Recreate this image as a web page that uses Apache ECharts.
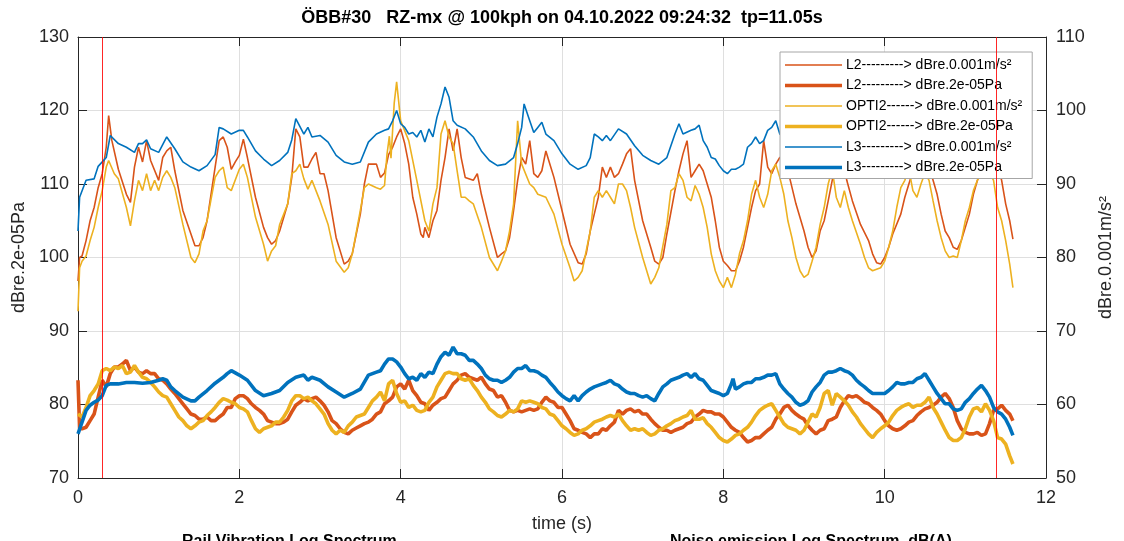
<!DOCTYPE html>
<html><head><meta charset="utf-8">
<script src="https://cdn.jsdelivr.net/npm/echarts@6/dist/echarts.min.js"></script>
<style>html,body{margin:0;padding:0;background:#fff}#c{width:1124px;height:541px}</style>
</head><body><div id="c"></div>
<script>
const titleText = 'ÖBB#30   RZ-mx @ 100kph on 04.10.2022 09:24:32  tp=11.05s';
const seriesNames = [
  'L2---------> dBre.0.001m/s²', 'L2---------> dBre.2e-05Pa',
  'OPTI2------> dBre.0.001m/s²', 'OPTI2------> dBre.2e-05Pa',
  'L3---------> dBre.0.001m/s²', 'L3---------> dBre.2e-05Pa'
];
const markerTimes = [0.3, 11.38];
const xTicks = [0, 2, 4, 6, 8, 10, 12];

// acceleration (right axis, dBre.0.001m/s²): [time s, value]
const L2acc = [[0,76.8],[0.02,80],[0.05,80.2],[0.1,82.3],[0.15,85],[0.2,86.8],[0.25,89.5],[0.3,91.4],[0.35,95],[0.38,99.3],[0.42,95.9],[0.5,92],[0.6,88.6],[0.65,87.5],[0.7,92.3],[0.75,95],[0.8,93],[0.85,95.9],[0.9,93.2],[1.0,90.5],[1.05,93.6],[1.1,94.5],[1.15,95],[1.2,91.8],[1.3,86.4],[1.4,83.2],[1.45,81.6],[1.5,81.6],[1.55,82.7],[1.6,85],[1.7,92.3],[1.75,95.9],[1.8,96.4],[1.85,95],[1.9,92],[1.95,93],[2.0,93.9],[2.05,96.1],[2.1,93.6],[2.2,88.2],[2.3,84.1],[2.35,82.7],[2.4,81.8],[2.45,82.3],[2.5,83.6],[2.6,87.3],[2.65,90.9],[2.7,97.5],[2.75,96.4],[2.8,92.3],[2.85,92.3],[2.9,93.4],[2.95,94.3],[3.0,91.4],[3.05,91.4],[3.1,89.1],[3.2,82.7],[3.3,79.1],[3.35,79.5],[3.4,80.5],[3.5,85.9],[3.55,90],[3.6,92.7],[3.7,92.7],[3.75,90.9],[3.8,91.5],[3.85,94],[3.9,95],[3.95,96.4],[4.0,97.5],[4.05,95.5],[4.1,92.7],[4.15,88.2],[4.2,85.9],[4.25,83.2],[4.28,82.7],[4.3,84.1],[4.35,82.7],[4.4,85],[4.45,86.4],[4.5,90.5],[4.55,93.6],[4.6,97.5],[4.65,94.5],[4.7,97.5],[4.75,93.6],[4.8,90.9],[4.9,90.5],[4.95,91.4],[5.0,88.6],[5.1,84.1],[5.2,80],[5.25,80.5],[5.3,80.9],[5.35,82.7],[5.4,86.4],[5.45,90.5],[5.5,93.6],[5.55,92.7],[5.6,95.9],[5.65,91.4],[5.7,90.9],[5.75,91.8],[5.8,94.5],[5.85,92.7],[5.9,90.9],[6.0,86.4],[6.1,81.8],[6.2,79.3],[6.25,79.1],[6.3,80.5],[6.35,83.6],[6.4,85.9],[6.45,88.2],[6.5,92.3],[6.55,90.9],[6.6,92.3],[6.65,90.9],[6.7,91.4],[6.75,92.7],[6.8,94.1],[6.85,94.8],[6.9,90.5],[7.0,85],[7.1,81.4],[7.15,79.5],[7.2,79.1],[7.25,80],[7.3,83.2],[7.4,89.1],[7.45,91.8],[7.5,94.1],[7.55,95.9],[7.6,90.9],[7.65,91.8],[7.7,92.7],[7.75,91.8],[7.8,90],[7.85,88.2],[7.9,85],[7.95,81.4],[8.0,79.5],[8.05,78.9],[8.1,78.2],[8.15,78.2],[8.2,79.5],[8.25,81.4],[8.3,84.1],[8.35,86.8],[8.4,89.1],[8.45,90],[8.5,95.9],[8.55,92.3],[8.6,91.4],[8.65,92.7],[8.7,93.6],[8.75,94],[8.83,90.5],[8.9,87.3],[9.0,83.6],[9.05,81.4],[9.1,80],[9.15,80.9],[9.2,83.6],[9.25,85],[9.3,87.7],[9.35,90.5],[9.4,93],[9.47,95],[9.53,90.5],[9.6,87.7],[9.7,84.5],[9.8,82.3],[9.85,80.5],[9.9,79.3],[9.95,79.1],[10.0,80],[10.05,81.4],[10.1,83.2],[10.2,85.9],[10.25,88.2],[10.3,90],[10.4,93.5],[10.5,94],[10.6,90.5],[10.65,88.6],[10.7,85.9],[10.75,83.6],[10.8,82.7],[10.85,81.4],[10.9,81.1],[10.95,82.3],[11.0,84.1],[11.05,85.9],[11.1,88.6],[11.15,90.5],[11.25,93.5],[11.35,94],[11.45,90.5],[11.5,87.3],[11.55,85],[11.59,82.5]];
const OPTI2acc = [[0,72.7],[0.02,78.6],[0.05,79.5],[0.1,80.2],[0.15,82.3],[0.2,84.1],[0.25,86.8],[0.3,89.1],[0.35,92.3],[0.38,93.2],[0.45,91.4],[0.5,90.7],[0.6,86.8],[0.65,84.3],[0.7,87.7],[0.75,90.5],[0.8,89.1],[0.85,91.4],[0.9,89.1],[0.95,90.5],[1.0,89.1],[1.05,90.9],[1.1,91.8],[1.15,90.9],[1.2,89.5],[1.3,84.5],[1.4,80],[1.45,79.3],[1.5,80.5],[1.55,83.6],[1.6,85],[1.7,90.9],[1.75,91.8],[1.8,92.3],[1.85,89.5],[1.9,89.1],[2.0,92],[2.05,92.7],[2.1,90.9],[2.2,85.5],[2.3,81.8],[2.35,79.5],[2.4,80.9],[2.45,81.6],[2.5,84.5],[2.6,87.3],[2.65,91.4],[2.7,91.8],[2.75,92.7],[2.8,90.7],[2.85,89.3],[2.9,90.5],[2.95,89.1],[3.0,87.7],[3.1,84.5],[3.2,79.5],[3.3,78],[3.35,78.6],[3.4,80.5],[3.5,86.4],[3.55,89.5],[3.6,90],[3.7,89.5],[3.75,89.3],[3.8,89.8],[3.83,94],[3.86,96.5],[3.88,93.5],[3.92,101],[3.95,103.9],[4.0,98.6],[4.1,95.9],[4.2,90.5],[4.3,85],[4.35,83.6],[4.4,87.3],[4.45,89.5],[4.5,96.8],[4.55,98.6],[4.6,96.4],[4.65,95.5],[4.7,91.8],[4.75,88.2],[4.8,88.2],[4.85,87.7],[4.9,87.3],[5.0,84.1],[5.1,80],[5.2,78.2],[5.25,79.5],[5.3,80.9],[5.35,83.6],[5.4,87.3],[5.45,98.6],[5.5,92.7],[5.6,90],[5.65,89.5],[5.7,88.6],[5.8,88.2],[5.9,85.9],[6.0,81.8],[6.1,78.6],[6.15,76.8],[6.2,77.3],[6.25,78.2],[6.3,80.9],[6.35,83.6],[6.4,88.2],[6.45,89.1],[6.5,88.2],[6.55,89.1],[6.6,88.2],[6.65,87.3],[6.7,90],[6.75,90],[6.8,89.1],[6.85,86.8],[6.9,84.1],[7.0,80],[7.1,76.4],[7.15,77.3],[7.2,78.6],[7.3,84.5],[7.35,89.1],[7.4,89.5],[7.45,91.4],[7.5,90.5],[7.55,88.2],[7.6,87.7],[7.65,89.8],[7.7,88.6],[7.75,86.8],[7.8,84.1],[7.85,80.5],[7.9,78.2],[7.95,76.8],[8.0,75.9],[8.05,77.3],[8.1,75.9],[8.15,77.7],[8.2,80.5],[8.25,82.3],[8.3,85],[8.35,88.6],[8.4,90.5],[8.45,88.2],[8.5,86.8],[8.55,88.6],[8.6,91.8],[8.65,92.7],[8.7,90.9],[8.75,88.6],[8.8,85],[8.85,82.7],[8.9,80],[8.95,78.2],[9.0,77.3],[9.05,77.7],[9.1,79.5],[9.15,81.4],[9.2,84.5],[9.25,86.8],[9.3,90],[9.35,92],[9.4,88.2],[9.45,86.8],[9.5,89.1],[9.55,86.8],[9.6,85],[9.7,81.8],[9.75,80],[9.8,78.6],[9.85,78.2],[9.9,78.4],[9.95,78.6],[10.0,79.5],[10.05,81.4],[10.1,83.6],[10.15,86.8],[10.2,89.5],[10.25,90.5],[10.3,92],[10.35,89.1],[10.4,88.2],[10.45,90],[10.5,91.5],[10.55,90.5],[10.6,87.7],[10.65,85],[10.7,82.7],[10.75,80.9],[10.8,80],[10.85,80.2],[10.9,80],[10.95,82.3],[11.0,85],[11.05,86.8],[11.1,89.1],[11.15,90.5],[11.25,92.5],[11.35,90.5],[11.4,86.8],[11.45,85],[11.5,82.3],[11.55,79.1],[11.59,75.9]];
const L3acc = [[0,83.6],[0.02,88.2],[0.1,90.5],[0.2,90.7],[0.25,92.4],[0.35,93.6],[0.4,96.6],[0.5,95.5],[0.6,95],[0.7,94.3],[0.75,95.5],[0.8,95.5],[0.85,96],[0.9,94.8],[1.0,94.3],[1.1,96.4],[1.2,94.8],[1.3,93],[1.4,92.3],[1.5,91.8],[1.6,92.5],[1.7,94],[1.75,97.7],[1.8,97.5],[1.9,96.8],[2.0,97.3],[2.05,97.3],[2.1,96.4],[2.2,94.5],[2.3,93.4],[2.4,92.5],[2.5,93.2],[2.6,94.3],[2.65,96],[2.7,98.9],[2.8,96.8],[2.85,97.7],[2.9,96.4],[3.0,96.6],[3.1,95.7],[3.2,93.9],[3.3,93],[3.4,92.7],[3.5,93],[3.6,95.7],[3.7,96.8],[3.8,97.3],[3.85,97.5],[3.9,98.6],[3.95,100],[4.0,98.2],[4.05,97.7],[4.1,96.8],[4.15,97],[4.2,96.4],[4.25,97.3],[4.3,95.7],[4.35,97.5],[4.4,96.4],[4.45,99.1],[4.5,100.9],[4.55,103.2],[4.6,101.8],[4.65,98.6],[4.7,98],[4.8,97.5],[4.9,96.4],[5.0,94.5],[5.1,93.2],[5.2,92.5],[5.3,92.7],[5.4,93.6],[5.45,95.5],[5.5,97.7],[5.53,100.9],[5.6,98.6],[5.65,97],[5.7,97.7],[5.75,98.4],[5.8,96.8],[5.9,95.9],[6.0,94.1],[6.1,92.7],[6.2,92],[6.3,92.5],[6.35,93.6],[6.4,96.8],[6.45,96.4],[6.5,95.9],[6.55,96.6],[6.6,95.9],[6.7,97.5],[6.8,96.8],[6.9,95.2],[7.0,93.9],[7.1,93.2],[7.2,92.7],[7.3,93.6],[7.4,96.8],[7.45,98.2],[7.5,96.8],[7.6,97.3],[7.65,97.5],[7.7,98],[7.75,95.9],[7.8,95],[7.85,93.6],[7.9,93.4],[7.95,92.5],[8.0,91.8],[8.05,91.4],[8.1,92],[8.15,92],[8.2,92.3],[8.25,92.7],[8.3,95],[8.35,95.5],[8.4,96.4],[8.45,95.5],[8.5,95.9],[8.55,97.3],[8.6,97.7],[8.65,98.6],[8.7,96.8],[8.8,96],[8.9,95],[9.0,93.5],[9.1,92.5],[9.2,92.8],[9.3,94],[9.4,96.5],[9.5,97.2],[9.6,96.5],[9.7,95.5],[9.8,94],[9.9,93],[10.0,92.2],[10.1,92.6],[10.2,94.5],[10.3,96.8],[10.4,97.5],[10.5,96.8],[10.6,95.6],[10.7,94.2],[10.8,93],[10.9,92.3],[11.0,92.5],[11.1,94],[11.2,96],[11.3,97],[11.4,96.2],[11.5,94.5],[11.59,93]];

// sound pressure (left axis, dBre.2e-05Pa): [time s, value]
const L2spl = [[0,83.3],[0.02,76.7],[0.05,76.7],[0.1,76.9],[0.15,77.8],[0.2,78.7],[0.25,81],[0.3,83.3],[0.35,82.4],[0.4,84.2],[0.45,85.1],[0.5,85.1],[0.55,85.5],[0.6,86],[0.65,84.6],[0.7,85.1],[0.75,84.4],[0.8,84.2],[0.85,84.6],[0.9,84.2],[0.95,84.2],[1.0,83.5],[1.05,83.3],[1.1,82.8],[1.15,82.1],[1.2,81.5],[1.25,80.8],[1.3,80.1],[1.35,79.4],[1.4,78.7],[1.45,78.5],[1.5,78],[1.55,78],[1.6,78.3],[1.65,77.8],[1.7,77.8],[1.75,78.3],[1.8,78.7],[1.85,79.6],[1.9,79.6],[1.95,80.8],[2.0,81.2],[2.05,81.2],[2.1,80.8],[2.15,80.1],[2.2,79.6],[2.25,79.2],[2.3,78.7],[2.35,77.8],[2.4,77.6],[2.45,77.4],[2.5,77.4],[2.55,77.6],[2.6,78],[2.65,79],[2.7,79.9],[2.75,80.3],[2.8,80.8],[2.85,80.5],[2.9,80.8],[2.95,81],[3.0,80.5],[3.05,79.9],[3.1,79],[3.15,77.8],[3.2,77.4],[3.25,76.7],[3.3,76.2],[3.35,76],[3.4,76.5],[3.45,76.8],[3.5,77.1],[3.55,77.4],[3.6,77.6],[3.65,78],[3.7,78.7],[3.75,79],[3.8,80.1],[3.85,80.5],[3.9,81],[3.95,82.4],[4.0,82.8],[4.05,82.1],[4.1,83.3],[4.15,81.9],[4.2,81.2],[4.25,80.3],[4.3,80.1],[4.35,79.2],[4.4,79.9],[4.45,80.3],[4.5,80.8],[4.55,81],[4.6,81.9],[4.65,82.8],[4.7,83.3],[4.75,84],[4.8,84.2],[4.85,83.7],[4.9,83.5],[4.95,83.3],[5.0,83.7],[5.05,82.8],[5.1,82.1],[5.15,81.9],[5.2,81],[5.25,81.2],[5.3,80.3],[5.35,79.2],[5.4,79],[5.45,79.2],[5.5,79],[5.55,79.2],[5.6,79.4],[5.65,79.2],[5.7,79.4],[5.75,80.3],[5.8,81],[5.85,80.5],[5.9,80.3],[5.95,79.6],[6.0,79.6],[6.05,78.7],[6.1,77.8],[6.15,76.7],[6.2,76.5],[6.25,76.2],[6.3,76],[6.35,75.5],[6.4,76],[6.45,76],[6.5,76.7],[6.55,76.5],[6.6,77.1],[6.65,77.6],[6.7,79.2],[6.75,78.7],[6.8,79.2],[6.85,79.4],[6.9,79],[6.95,79.2],[7.0,78.7],[7.05,78.7],[7.1,78],[7.15,77.4],[7.2,76.9],[7.25,76.5],[7.3,76.5],[7.35,76.2],[7.4,76.5],[7.45,76.7],[7.5,76.9],[7.55,77.4],[7.6,77.6],[7.65,78.3],[7.7,78.7],[7.75,79.2],[7.8,79],[7.85,79],[7.9,78.7],[7.95,78.7],[8.0,78.3],[8.05,77.6],[8.1,76.9],[8.15,76.5],[8.2,76.2],[8.25,75.5],[8.3,74.9],[8.35,75.1],[8.4,75.5],[8.45,75.5],[8.5,76],[8.55,76.5],[8.6,76.9],[8.65,78],[8.7,78.7],[8.75,79.6],[8.8,79.9],[8.85,79.2],[8.9,78.7],[8.95,78.3],[9.0,78],[9.05,77.1],[9.1,76.5],[9.15,76],[9.2,76.5],[9.25,76.7],[9.3,77.8],[9.35,78],[9.4,78.3],[9.45,79.6],[9.5,80.5],[9.55,81.2],[9.6,81],[9.65,81.2],[9.7,80.8],[9.75,80.3],[9.8,80.1],[9.85,79.6],[9.9,79.2],[9.95,78.7],[10.0,77.8],[10.05,77.1],[10.1,76.7],[10.15,76.5],[10.2,76.7],[10.25,77.1],[10.3,77.6],[10.35,77.8],[10.4,78.5],[10.45,79],[10.5,79.4],[10.55,79.6],[10.6,79.9],[10.65,80.3],[10.7,81],[10.75,81.5],[10.8,80.8],[10.85,79.6],[10.9,77.8],[10.95,76.7],[11.0,76.2],[11.05,76],[11.1,76],[11.15,76.2],[11.2,75.8],[11.25,76],[11.3,77.4],[11.35,79.2],[11.4,79.4],[11.45,79.9],[11.5,79.2],[11.55,78.7],[11.59,77.8]];
const OPTI2spl = [[0,78.7],[0.05,78.3],[0.1,79.6],[0.15,81.2],[0.2,81.9],[0.25,82.8],[0.3,84.6],[0.35,84.9],[0.4,84.6],[0.45,85.1],[0.5,84.9],[0.55,85.3],[0.6,84.2],[0.65,84.4],[0.7,85.3],[0.75,84.4],[0.8,83.7],[0.85,83.5],[0.9,83],[0.95,82.4],[1.0,81.7],[1.05,81.2],[1.1,81],[1.15,80.1],[1.2,79.2],[1.25,78.3],[1.3,77.8],[1.35,77.1],[1.4,76.7],[1.45,77.1],[1.5,77.6],[1.55,77.8],[1.6,78.5],[1.65,79],[1.7,79.6],[1.75,80.3],[1.8,80.8],[1.85,80.6],[1.9,80.3],[1.95,80.1],[2.0,79.6],[2.05,79.4],[2.1,79],[2.15,77.8],[2.2,76.7],[2.25,76.2],[2.3,76.7],[2.35,76.9],[2.4,77.1],[2.45,77.6],[2.5,77.6],[2.55,78.3],[2.6,79.2],[2.65,80.5],[2.7,81.2],[2.75,81.2],[2.8,80.8],[2.85,81],[2.9,80.5],[2.95,80.1],[3.0,79.4],[3.05,78.7],[3.1,77.4],[3.15,76.5],[3.2,76],[3.25,76.5],[3.3,76.2],[3.35,77.1],[3.4,77.6],[3.45,78.3],[3.5,78.5],[3.55,78.7],[3.6,79.6],[3.65,80.5],[3.7,81],[3.75,81.7],[3.8,80.5],[3.85,82.8],[3.9,83.3],[3.95,81.5],[4.0,80.3],[4.05,80.5],[4.1,79.6],[4.15,79.9],[4.2,79.2],[4.25,79],[4.3,79.2],[4.35,80.3],[4.4,81],[4.45,82.4],[4.5,83.3],[4.55,84.2],[4.6,84.4],[4.65,84.2],[4.7,84.2],[4.75,83.5],[4.8,83.3],[4.85,83.5],[4.9,82.6],[4.95,81.9],[5.0,81],[5.05,80.3],[5.1,79.4],[5.15,79],[5.2,78.5],[5.25,78.3],[5.3,78.7],[5.35,79.2],[5.4,79],[5.45,79.4],[5.5,80.5],[5.55,80.3],[5.6,80.5],[5.65,80.3],[5.7,80.1],[5.75,79.6],[5.8,79.4],[5.85,78.7],[5.9,78.5],[5.95,77.8],[6.0,77.1],[6.05,76.7],[6.1,76.2],[6.15,75.8],[6.2,76],[6.25,76.5],[6.3,76.7],[6.35,77.1],[6.4,77.6],[6.45,77.8],[6.5,78],[6.55,78.3],[6.6,78.5],[6.65,78.3],[6.7,78.7],[6.75,77.8],[6.8,77.1],[6.85,76.5],[6.9,76.7],[6.95,76.5],[7.0,76.7],[7.05,76.2],[7.1,75.8],[7.15,76],[7.2,76.5],[7.25,76.7],[7.3,77.1],[7.35,77.4],[7.4,77.8],[7.45,78],[7.5,78.3],[7.55,78.5],[7.6,79.2],[7.65,78],[7.7,78],[7.75,78.2],[7.8,77.4],[7.85,76.9],[7.9,76.2],[7.95,75.5],[8.0,75.1],[8.05,74.9],[8.1,75.3],[8.15,75.8],[8.2,76],[8.25,76.5],[8.3,76.9],[8.35,77.6],[8.4,78.5],[8.45,79.2],[8.5,79.6],[8.55,79.9],[8.6,80.1],[8.65,79.2],[8.7,78.3],[8.75,77.4],[8.8,76.9],[8.85,76.7],[8.9,76.5],[8.95,76],[9.0,76.5],[9.05,77.6],[9.1,78.7],[9.15,78.3],[9.2,79.6],[9.25,81.5],[9.3,81.9],[9.35,79.9],[9.4,81.5],[9.45,81],[9.5,80.5],[9.55,79.9],[9.6,79],[9.65,78.3],[9.7,77.4],[9.75,76.7],[9.8,76],[9.85,75.5],[9.9,76.2],[9.95,76.7],[10.0,77.1],[10.05,77.6],[10.1,78.5],[10.15,79.2],[10.2,79.6],[10.25,79.9],[10.3,80.1],[10.35,79.6],[10.4,79.9],[10.45,79.9],[10.5,80.3],[10.55,81],[10.6,79.6],[10.65,78.7],[10.7,77.6],[10.75,76.5],[10.8,75.5],[10.85,75.1],[10.9,75.1],[10.95,75.5],[11.0,76.7],[11.05,78.3],[11.1,79.4],[11.15,79.6],[11.2,79],[11.25,80.1],[11.3,79.2],[11.35,77.8],[11.4,75.5],[11.45,75.3],[11.5,74.6],[11.55,73],[11.59,71.9]];
const L3spl = [[0,76],[0.05,77.6],[0.1,79.2],[0.15,79.9],[0.2,80.3],[0.25,80.6],[0.3,81.2],[0.35,82.6],[0.4,82.8],[0.5,82.8],[0.6,83],[0.7,83],[0.8,82.9],[0.9,83],[1.0,83.3],[1.05,83.5],[1.1,83.3],[1.15,82.4],[1.2,81.9],[1.3,81],[1.4,80.5],[1.45,80.5],[1.5,81],[1.6,81.9],[1.7,82.9],[1.8,83.7],[1.85,84.2],[1.9,84.6],[2.0,84],[2.1,83.3],[2.2,81.9],[2.3,81.2],[2.4,81.5],[2.5,81.9],[2.6,83],[2.7,83.7],[2.8,84],[2.85,83.3],[2.9,83.7],[3.0,83.3],[3.1,82.4],[3.2,81.7],[3.3,81],[3.4,81.5],[3.5,82.1],[3.6,84],[3.7,84.4],[3.75,84.6],[3.8,85.5],[3.85,86.2],[3.9,86.2],[3.95,85.8],[4.0,85.1],[4.05,84.2],[4.1,83.5],[4.15,83.7],[4.2,83.3],[4.25,84.2],[4.3,83.7],[4.35,84.4],[4.4,84.2],[4.45,85.5],[4.5,86.5],[4.55,87.1],[4.6,86.7],[4.65,87.8],[4.7,86.9],[4.75,86.9],[4.8,86.7],[4.85,86],[4.9,86],[4.95,85.5],[5.0,84.9],[5.05,84],[5.1,83.5],[5.15,83.3],[5.2,83.3],[5.25,83],[5.3,83.3],[5.35,83.7],[5.4,84.4],[5.45,84.9],[5.5,84.9],[5.55,85.3],[5.6,84.6],[5.65,84.6],[5.7,84.4],[5.75,84],[5.8,83.7],[5.85,83],[5.9,82.4],[5.95,81.7],[6.0,81.2],[6.05,80.8],[6.1,80.5],[6.15,81.2],[6.2,80.5],[6.25,81.2],[6.3,81.7],[6.35,82.1],[6.4,82.4],[6.45,82.6],[6.5,82.8],[6.55,83],[6.6,83.3],[6.65,82.8],[6.7,82.6],[6.75,82.1],[6.8,81.7],[6.85,81.5],[6.9,81.5],[6.95,81.2],[7.0,81],[7.05,81.2],[7.1,80.8],[7.15,80.5],[7.2,81.5],[7.25,82.4],[7.3,82.8],[7.35,83.3],[7.4,83.5],[7.45,83.7],[7.5,84],[7.55,84.2],[7.6,83.7],[7.65,84.2],[7.7,83.5],[7.75,83.3],[7.8,82.6],[7.85,81.9],[7.9,81.7],[7.95,81.5],[8.0,81.2],[8.05,81.5],[8.1,82.8],[8.12,83.5],[8.15,82.1],[8.2,82.4],[8.25,82.8],[8.3,83],[8.35,83],[8.4,83.5],[8.45,83.5],[8.5,83.7],[8.55,84],[8.6,84],[8.65,84.2],[8.7,82.8],[8.75,82.1],[8.8,81.5],[8.85,81],[8.9,80.3],[8.95,79.9],[9.0,80.1],[9.05,80.5],[9.1,81.7],[9.15,82.4],[9.2,83],[9.25,84],[9.3,84.4],[9.35,84.4],[9.4,84.6],[9.45,84.9],[9.5,84.6],[9.55,84.4],[9.6,84],[9.65,83.3],[9.7,82.8],[9.75,82.4],[9.8,81.9],[9.85,81.5],[9.9,81.5],[9.95,81.5],[10.0,81.5],[10.05,81.9],[10.1,82.4],[10.15,83],[10.2,82.8],[10.25,82.8],[10.3,83],[10.35,83],[10.4,83.5],[10.45,83.7],[10.5,84.2],[10.55,83.3],[10.6,82.4],[10.65,81.5],[10.7,80.8],[10.75,80.1],[10.8,80.1],[10.85,79.4],[10.9,79.2],[10.95,79.4],[11.0,80.3],[11.05,80.8],[11.1,81.5],[11.15,82.1],[11.2,82.6],[11.25,81.9],[11.3,81],[11.35,79.6],[11.4,79],[11.45,78.7],[11.5,78],[11.55,76.9],[11.59,75.8]];

const FONT = 'Liberation Sans';
const AX = '#262626';
const C_L2 = '#D95319', C_OPTI = '#EDB120', C_L3 = '#0072BD';
const THIN = 1.6, THICK = 3.6;
const ICON_THIN = 'path://M0 0H57V1.6H0Z';
const ICON_THICK = 'path://M0 0H57V3.6H0Z';

function mk(name, data, color, width, yIdx, extra) {
  return Object.assign({
    name: name, type: 'line', data: data, yAxisIndex: yIdx,
    symbol: 'none', showSymbol: false, color: color,
    itemStyle: { color: color },
    lineStyle: { color: color, width: width }, animation: false
  }, extra || {});
}

const chart = echarts.init(document.getElementById('c'), null, { renderer: 'canvas' });
chart.setOption({
  backgroundColor: '#ffffff',
  animation: false,
  textStyle: { fontFamily: FONT },
  title: {
    text: titleText, left: 'center', top: 4,
    textStyle: { fontFamily: FONT, fontSize: 18, fontWeight: 'bold', color: '#000' }
  },
  grid: { left: 78, right: 78, top: 37, bottom: 63, containLabel: false },
  legend: {
    orient: 'vertical', left: 780, top: 52,
    backgroundColor: '#ffffff', borderColor: '#a6a6a6', borderWidth: 1, borderRadius: 0,
    padding: [6, 10, 4, 5], itemWidth: 57, itemHeight: 14, itemGap: 6.5,
    symbolKeepAspect: true,
    textStyle: { fontFamily: FONT, fontSize: 14, lineHeight: 14, color: '#000', padding: [0, 0, 0, -1] },
    data: [
      { name: seriesNames[0], icon: ICON_THIN },
      { name: seriesNames[1], icon: ICON_THICK },
      { name: seriesNames[2], icon: ICON_THIN },
      { name: seriesNames[3], icon: ICON_THICK },
      { name: seriesNames[4], icon: ICON_THIN },
      { name: seriesNames[5], icon: ICON_THICK }
    ]
  },
  xAxis: [{
    type: 'value', min: xTicks[0], max: xTicks[xTicks.length - 1], interval: 2,
    name: 'time (s)', nameLocation: 'middle', nameGap: 37,
    nameTextStyle: { fontFamily: FONT, fontSize: 18, color: AX },
    axisLine: { show: true, onZero: false, lineStyle: { color: AX, width: 1 } },
    axisTick: { show: true, inside: true, length: 9, lineStyle: { color: AX } },
    axisLabel: { fontFamily: FONT, fontSize: 18, color: AX, margin: 11 },
    splitLine: { show: true, lineStyle: { color: '#dfdfdf', width: 1 } }
  }, {
    type: 'value', position: 'top', min: 0, max: 12, interval: 2,
    axisLine: { show: true, onZero: false, lineStyle: { color: AX, width: 1 } },
    axisTick: { show: true, inside: true, length: 9, lineStyle: { color: AX } },
    axisLabel: { show: false }, splitLine: { show: false }
  }],
  yAxis: [{
    type: 'value', position: 'left', min: 70, max: 130, interval: 10,
    name: 'dBre.2e-05Pa', nameLocation: 'middle', nameGap: 47, nameRotate: 90,
    nameTextStyle: { fontFamily: FONT, fontSize: 18, color: AX },
    axisLine: { show: true, onZero: false, lineStyle: { color: AX, width: 1 } },
    axisTick: { show: true, inside: true, length: 9, lineStyle: { color: AX } },
    axisLabel: { fontFamily: FONT, fontSize: 18, color: AX, margin: 9 },
    splitLine: { show: true, lineStyle: { color: '#dfdfdf', width: 1 } }
  }, {
    type: 'value', position: 'right', min: 50, max: 110, interval: 10,
    name: 'dBre.0.001m/s²', nameLocation: 'middle', nameGap: 50, nameRotate: 90,
    nameTextStyle: { fontFamily: FONT, fontSize: 18, color: AX },
    axisLine: { show: true, onZero: false, lineStyle: { color: AX, width: 1 } },
    axisTick: { show: true, inside: true, length: 9, lineStyle: { color: AX } },
    axisLabel: { fontFamily: FONT, fontSize: 18, color: AX, margin: 10 },
    splitLine: { show: false }
  }],
  series: [
    mk(seriesNames[0], L2acc, C_L2, THIN, 1, {
      markLine: {
        silent: true, symbol: 'none', animation: false,
        label: { show: false },
        lineStyle: { color: '#ff0000', width: 1, type: 'solid', opacity: 0.85 },
        data: markerTimes.map(function (t) { return { xAxis: t }; })
      }
    }),
    mk(seriesNames[1], L2spl, C_L2, THICK, 0),
    mk(seriesNames[2], OPTI2acc, C_OPTI, THIN, 1),
    mk(seriesNames[3], OPTI2spl, C_OPTI, THICK, 0),
    mk(seriesNames[4], L3acc, C_L3, THIN, 1),
    mk(seriesNames[5], L3spl, C_L3, THICK, 0)
  ],
  graphic: [
    { type: 'text', left: 182, top: 534, style: { text: 'Rail Vibration Log Spectrum', font: 'bold 16px "Liberation Sans"', fill: '#000' } },
    { type: 'text', left: 670, top: 534, style: { text: 'Noise emission Log Spectrum, dB(A)', font: 'bold 16px "Liberation Sans"', fill: '#000' } }
  ]
});
</script></body></html>
